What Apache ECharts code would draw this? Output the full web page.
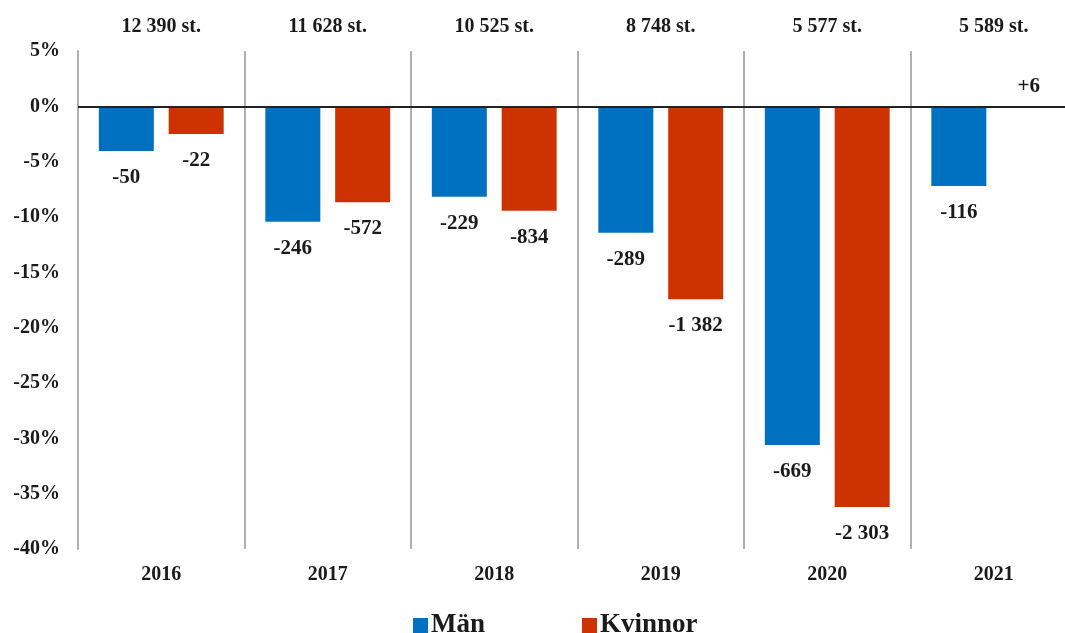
<!DOCTYPE html>
<html>
<head>
<meta charset="utf-8">
<script src="https://cdn.jsdelivr.net/npm/echarts@6/dist/echarts.min.js"></script>
<style>html,body{margin:0;padding:0;background:#fff;}#c{width:1065px;height:633px;}</style>
</head>
<body>
<div id="c"></div>
<script>
const years = ['2016', '2017', '2018', '2019', '2020', '2021'];
const totals = ['12 390 st.', '11 628 st.', '10 525 st.', '8 748 st.', '5 577 st.', '5 589 st.'];
const manPct = [-4.04, -10.42, -8.17, -11.42, -30.6, -7.2];
const kvinnorPct = [-2.5, -8.67, -9.43, -17.43, -36.2, 0.02];
const manLabels = ['-50', '-246', '-229', '-289', '-669', '-116'];
const kvinnorLabels = ['-22', '-572', '-834', '-1 382', '-2 303', '+6'];

const FONT = '"Liberation Serif", "Times New Roman", serif';
const TXT = '#1a1a1a';

function mkData(vals) {
  return vals.map(v => ({
    value: v,
    label: v >= 0 ? { position: 'top', distance: 9 } : { position: 'bottom', distance: 16 }
  }));
}

const chart = echarts.init(document.getElementById('c'), null, { renderer: 'canvas' });
chart.setOption({
  animation: false,
  textStyle: { fontFamily: FONT },
  grid: { left: 78, width: 999, top: 51, height: 498, containLabel: false, outerBoundsMode: 'none' },
  legend: {
    data: ['Män', 'Kvinnor'],
    left: 408, top: 607,
    icon: 'rect', itemWidth: 15, itemHeight: 15, itemGap: 97,
    textStyle: { fontFamily: FONT, fontSize: 27, fontWeight: 'bold', color: TXT, padding: [0, 0, 0, -2] }
  },
  xAxis: [
    {
      type: 'category', data: years, position: 'bottom',
      axisLine: { show: false }, axisTick: { show: false },
      splitLine: { show: true, lineStyle: { color: '#b0b0b0', width: 2 } },
      axisLabel: { margin: 16, fontFamily: FONT, fontSize: 20, fontWeight: 'bold', color: TXT }
    },
    {
      type: 'category', data: totals, position: 'top',
      axisLine: { show: false }, axisTick: { show: false }, splitLine: { show: false },
      axisLabel: { margin: 14, fontFamily: FONT, fontSize: 20, fontWeight: 'bold', color: TXT }
    }
  ],
  yAxis: {
    type: 'value', min: -40, max: 5, interval: 5,
    axisLine: { show: true, lineStyle: { color: '#b0b0b0', width: 2 } },
    axisTick: { show: false }, splitLine: { show: false },
    axisLabel: { margin: 18, formatter: '{value}%', fontFamily: FONT, fontSize: 20, fontWeight: 'bold', color: TXT }
  },
  series: [
    {
      name: 'Män', type: 'bar', data: mkData(manPct),
      barWidth: 55, barGap: '27%',
      itemStyle: { color: '#0070C0' },
      label: { show: true, fontFamily: FONT, fontSize: 21, fontWeight: 'bold', color: TXT,
        formatter: p => manLabels[p.dataIndex] },
      markLine: {
        silent: true, symbol: 'none', label: { show: false },
        lineStyle: { color: '#222', width: 2, type: 'solid' },
        data: [{ yAxis: 0 }]
      },
      z: 2
    },
    {
      name: 'Kvinnor', type: 'bar', data: mkData(kvinnorPct),
      barWidth: 55, barGap: '27%',
      itemStyle: { color: '#CC3300' },
      label: { show: true, fontFamily: FONT, fontSize: 21, fontWeight: 'bold', color: TXT,
        formatter: p => kvinnorLabels[p.dataIndex] },
      z: 2
    }
  ]
});
</script>
</body>
</html>
